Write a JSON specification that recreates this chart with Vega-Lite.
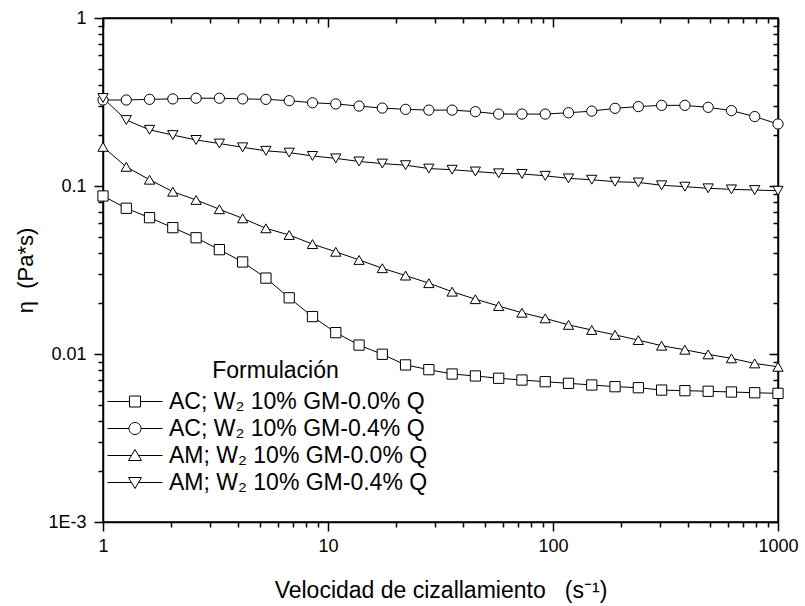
{
  "$schema": "https://vega.github.io/schema/vega-lite/v6.json",
  "width": 675,
  "height": 504,
  "autosize": {"type": "none"},
  "padding": {"left": 103, "top": 18, "right": 27, "bottom": 84},
  "background": "white",
  "config": {
    "view": {"stroke": "black", "strokeWidth": 1.5},
    "font": "Liberation Sans",
    "axis": {"grid": false, "domainColor": "black", "domainWidth": 1.5, "tickColor": "black", "tickWidth": 1.5, "labelColor": "black", "titleColor": "black", "labelFont": "Liberation Sans", "titleFont": "Liberation Sans", "titleFontWeight": "normal", "labelOverlap": false, "labelFlush": false},
    "legend": {"labelFont": "Liberation Sans", "titleFont": "Liberation Sans"}
  },
  "data": {"values": [
    {"rate": 1, "eta": 0.0872, "serie": "AC; W₂ 10% GM-0.0% Q"},
    {"rate": 1.269, "eta": 0.0737, "serie": "AC; W₂ 10% GM-0.0% Q"},
    {"rate": 1.610, "eta": 0.0648, "serie": "AC; W₂ 10% GM-0.0% Q"},
    {"rate": 2.043, "eta": 0.0565, "serie": "AC; W₂ 10% GM-0.0% Q"},
    {"rate": 2.593, "eta": 0.0492, "serie": "AC; W₂ 10% GM-0.0% Q"},
    {"rate": 3.290, "eta": 0.0418, "serie": "AC; W₂ 10% GM-0.0% Q"},
    {"rate": 4.175, "eta": 0.0353, "serie": "AC; W₂ 10% GM-0.0% Q"},
    {"rate": 5.298, "eta": 0.0283, "serie": "AC; W₂ 10% GM-0.0% Q"},
    {"rate": 6.723, "eta": 0.0216, "serie": "AC; W₂ 10% GM-0.0% Q"},
    {"rate": 8.532, "eta": 0.0167, "serie": "AC; W₂ 10% GM-0.0% Q"},
    {"rate": 10.83, "eta": 0.0134, "serie": "AC; W₂ 10% GM-0.0% Q"},
    {"rate": 13.74, "eta": 0.0113, "serie": "AC; W₂ 10% GM-0.0% Q"},
    {"rate": 17.43, "eta": 0.00996, "serie": "AC; W₂ 10% GM-0.0% Q"},
    {"rate": 22.12, "eta": 0.00861, "serie": "AC; W₂ 10% GM-0.0% Q"},
    {"rate": 28.07, "eta": 0.00807, "serie": "AC; W₂ 10% GM-0.0% Q"},
    {"rate": 35.62, "eta": 0.00760, "serie": "AC; W₂ 10% GM-0.0% Q"},
    {"rate": 45.20, "eta": 0.00740, "serie": "AC; W₂ 10% GM-0.0% Q"},
    {"rate": 57.36, "eta": 0.00717, "serie": "AC; W₂ 10% GM-0.0% Q"},
    {"rate": 72.79, "eta": 0.00700, "serie": "AC; W₂ 10% GM-0.0% Q"},
    {"rate": 92.37, "eta": 0.00684, "serie": "AC; W₂ 10% GM-0.0% Q"},
    {"rate": 117.2, "eta": 0.00669, "serie": "AC; W₂ 10% GM-0.0% Q"},
    {"rate": 148.7, "eta": 0.00654, "serie": "AC; W₂ 10% GM-0.0% Q"},
    {"rate": 188.7, "eta": 0.00639, "serie": "AC; W₂ 10% GM-0.0% Q"},
    {"rate": 239.5, "eta": 0.00630, "serie": "AC; W₂ 10% GM-0.0% Q"},
    {"rate": 303.9, "eta": 0.00610, "serie": "AC; W₂ 10% GM-0.0% Q"},
    {"rate": 385.7, "eta": 0.00605, "serie": "AC; W₂ 10% GM-0.0% Q"},
    {"rate": 489.4, "eta": 0.00600, "serie": "AC; W₂ 10% GM-0.0% Q"},
    {"rate": 621.0, "eta": 0.00594, "serie": "AC; W₂ 10% GM-0.0% Q"},
    {"rate": 788.0, "eta": 0.00588, "serie": "AC; W₂ 10% GM-0.0% Q"},
    {"rate": 1000, "eta": 0.00583, "serie": "AC; W₂ 10% GM-0.0% Q"},
    {"rate": 1, "eta": 0.325, "serie": "AC; W₂ 10% GM-0.4% Q"},
    {"rate": 1.269, "eta": 0.325, "serie": "AC; W₂ 10% GM-0.4% Q"},
    {"rate": 1.610, "eta": 0.328, "serie": "AC; W₂ 10% GM-0.4% Q"},
    {"rate": 2.043, "eta": 0.330, "serie": "AC; W₂ 10% GM-0.4% Q"},
    {"rate": 2.593, "eta": 0.333, "serie": "AC; W₂ 10% GM-0.4% Q"},
    {"rate": 3.290, "eta": 0.333, "serie": "AC; W₂ 10% GM-0.4% Q"},
    {"rate": 4.175, "eta": 0.330, "serie": "AC; W₂ 10% GM-0.4% Q"},
    {"rate": 5.298, "eta": 0.328, "serie": "AC; W₂ 10% GM-0.4% Q"},
    {"rate": 6.723, "eta": 0.322, "serie": "AC; W₂ 10% GM-0.4% Q"},
    {"rate": 8.532, "eta": 0.313, "serie": "AC; W₂ 10% GM-0.4% Q"},
    {"rate": 10.83, "eta": 0.308, "serie": "AC; W₂ 10% GM-0.4% Q"},
    {"rate": 13.74, "eta": 0.299, "serie": "AC; W₂ 10% GM-0.4% Q"},
    {"rate": 17.43, "eta": 0.291, "serie": "AC; W₂ 10% GM-0.4% Q"},
    {"rate": 22.12, "eta": 0.286, "serie": "AC; W₂ 10% GM-0.4% Q"},
    {"rate": 28.07, "eta": 0.283, "serie": "AC; W₂ 10% GM-0.4% Q"},
    {"rate": 35.62, "eta": 0.283, "serie": "AC; W₂ 10% GM-0.4% Q"},
    {"rate": 45.20, "eta": 0.277, "serie": "AC; W₂ 10% GM-0.4% Q"},
    {"rate": 57.36, "eta": 0.268, "serie": "AC; W₂ 10% GM-0.4% Q"},
    {"rate": 72.79, "eta": 0.268, "serie": "AC; W₂ 10% GM-0.4% Q"},
    {"rate": 92.37, "eta": 0.268, "serie": "AC; W₂ 10% GM-0.4% Q"},
    {"rate": 117.2, "eta": 0.273, "serie": "AC; W₂ 10% GM-0.4% Q"},
    {"rate": 148.7, "eta": 0.279, "serie": "AC; W₂ 10% GM-0.4% Q"},
    {"rate": 188.7, "eta": 0.290, "serie": "AC; W₂ 10% GM-0.4% Q"},
    {"rate": 239.5, "eta": 0.297, "serie": "AC; W₂ 10% GM-0.4% Q"},
    {"rate": 303.9, "eta": 0.302, "serie": "AC; W₂ 10% GM-0.4% Q"},
    {"rate": 385.7, "eta": 0.302, "serie": "AC; W₂ 10% GM-0.4% Q"},
    {"rate": 489.4, "eta": 0.294, "serie": "AC; W₂ 10% GM-0.4% Q"},
    {"rate": 621.0, "eta": 0.281, "serie": "AC; W₂ 10% GM-0.4% Q"},
    {"rate": 788.0, "eta": 0.259, "serie": "AC; W₂ 10% GM-0.4% Q"},
    {"rate": 1000, "eta": 0.234, "serie": "AC; W₂ 10% GM-0.4% Q"},
    {"rate": 1, "eta": 0.171, "serie": "AM; W₂ 10% GM-0.0% Q"},
    {"rate": 1.269, "eta": 0.130, "serie": "AM; W₂ 10% GM-0.0% Q"},
    {"rate": 1.610, "eta": 0.109, "serie": "AM; W₂ 10% GM-0.0% Q"},
    {"rate": 2.043, "eta": 0.0925, "serie": "AM; W₂ 10% GM-0.0% Q"},
    {"rate": 2.593, "eta": 0.0826, "serie": "AM; W₂ 10% GM-0.0% Q"},
    {"rate": 3.290, "eta": 0.0727, "serie": "AM; W₂ 10% GM-0.0% Q"},
    {"rate": 4.175, "eta": 0.0642, "serie": "AM; W₂ 10% GM-0.0% Q"},
    {"rate": 5.298, "eta": 0.0560, "serie": "AM; W₂ 10% GM-0.0% Q"},
    {"rate": 6.723, "eta": 0.0511, "serie": "AM; W₂ 10% GM-0.0% Q"},
    {"rate": 8.532, "eta": 0.0451, "serie": "AM; W₂ 10% GM-0.0% Q"},
    {"rate": 10.83, "eta": 0.0406, "serie": "AM; W₂ 10% GM-0.0% Q"},
    {"rate": 13.74, "eta": 0.0363, "serie": "AM; W₂ 10% GM-0.0% Q"},
    {"rate": 17.43, "eta": 0.0324, "serie": "AM; W₂ 10% GM-0.0% Q"},
    {"rate": 22.12, "eta": 0.0293, "serie": "AM; W₂ 10% GM-0.0% Q"},
    {"rate": 28.07, "eta": 0.0264, "serie": "AM; W₂ 10% GM-0.0% Q"},
    {"rate": 35.62, "eta": 0.0235, "serie": "AM; W₂ 10% GM-0.0% Q"},
    {"rate": 45.20, "eta": 0.0212, "serie": "AM; W₂ 10% GM-0.0% Q"},
    {"rate": 57.36, "eta": 0.0193, "serie": "AM; W₂ 10% GM-0.0% Q"},
    {"rate": 72.79, "eta": 0.0176, "serie": "AM; W₂ 10% GM-0.0% Q"},
    {"rate": 92.37, "eta": 0.0163, "serie": "AM; W₂ 10% GM-0.0% Q"},
    {"rate": 117.2, "eta": 0.0149, "serie": "AM; W₂ 10% GM-0.0% Q"},
    {"rate": 148.7, "eta": 0.0139, "serie": "AM; W₂ 10% GM-0.0% Q"},
    {"rate": 188.7, "eta": 0.0130, "serie": "AM; W₂ 10% GM-0.0% Q"},
    {"rate": 239.5, "eta": 0.0121, "serie": "AM; W₂ 10% GM-0.0% Q"},
    {"rate": 303.9, "eta": 0.0112, "serie": "AM; W₂ 10% GM-0.0% Q"},
    {"rate": 385.7, "eta": 0.0106, "serie": "AM; W₂ 10% GM-0.0% Q"},
    {"rate": 489.4, "eta": 0.00995, "serie": "AM; W₂ 10% GM-0.0% Q"},
    {"rate": 621.0, "eta": 0.00942, "serie": "AM; W₂ 10% GM-0.0% Q"},
    {"rate": 788.0, "eta": 0.00879, "serie": "AM; W₂ 10% GM-0.0% Q"},
    {"rate": 1000, "eta": 0.00839, "serie": "AM; W₂ 10% GM-0.0% Q"},
    {"rate": 1, "eta": 0.334, "serie": "AM; W₂ 10% GM-0.4% Q"},
    {"rate": 1.269, "eta": 0.247, "serie": "AM; W₂ 10% GM-0.4% Q"},
    {"rate": 1.610, "eta": 0.216, "serie": "AM; W₂ 10% GM-0.4% Q"},
    {"rate": 2.043, "eta": 0.201, "serie": "AM; W₂ 10% GM-0.4% Q"},
    {"rate": 2.593, "eta": 0.188, "serie": "AM; W₂ 10% GM-0.4% Q"},
    {"rate": 3.290, "eta": 0.179, "serie": "AM; W₂ 10% GM-0.4% Q"},
    {"rate": 4.175, "eta": 0.170, "serie": "AM; W₂ 10% GM-0.4% Q"},
    {"rate": 5.298, "eta": 0.162, "serie": "AM; W₂ 10% GM-0.4% Q"},
    {"rate": 6.723, "eta": 0.158, "serie": "AM; W₂ 10% GM-0.4% Q"},
    {"rate": 8.532, "eta": 0.151, "serie": "AM; W₂ 10% GM-0.4% Q"},
    {"rate": 10.83, "eta": 0.146, "serie": "AM; W₂ 10% GM-0.4% Q"},
    {"rate": 13.74, "eta": 0.140, "serie": "AM; W₂ 10% GM-0.4% Q"},
    {"rate": 17.43, "eta": 0.136, "serie": "AM; W₂ 10% GM-0.4% Q"},
    {"rate": 22.12, "eta": 0.133, "serie": "AM; W₂ 10% GM-0.4% Q"},
    {"rate": 28.07, "eta": 0.127, "serie": "AM; W₂ 10% GM-0.4% Q"},
    {"rate": 35.62, "eta": 0.125, "serie": "AM; W₂ 10% GM-0.4% Q"},
    {"rate": 45.20, "eta": 0.122, "serie": "AM; W₂ 10% GM-0.4% Q"},
    {"rate": 57.36, "eta": 0.119, "serie": "AM; W₂ 10% GM-0.4% Q"},
    {"rate": 72.79, "eta": 0.118, "serie": "AM; W₂ 10% GM-0.4% Q"},
    {"rate": 92.37, "eta": 0.115, "serie": "AM; W₂ 10% GM-0.4% Q"},
    {"rate": 117.2, "eta": 0.111, "serie": "AM; W₂ 10% GM-0.4% Q"},
    {"rate": 148.7, "eta": 0.109, "serie": "AM; W₂ 10% GM-0.4% Q"},
    {"rate": 188.7, "eta": 0.106, "serie": "AM; W₂ 10% GM-0.4% Q"},
    {"rate": 239.5, "eta": 0.105, "serie": "AM; W₂ 10% GM-0.4% Q"},
    {"rate": 303.9, "eta": 0.101, "serie": "AM; W₂ 10% GM-0.4% Q"},
    {"rate": 385.7, "eta": 0.0991, "serie": "AM; W₂ 10% GM-0.4% Q"},
    {"rate": 489.4, "eta": 0.0969, "serie": "AM; W₂ 10% GM-0.4% Q"},
    {"rate": 621.0, "eta": 0.0955, "serie": "AM; W₂ 10% GM-0.4% Q"},
    {"rate": 788.0, "eta": 0.0946, "serie": "AM; W₂ 10% GM-0.4% Q"},
    {"rate": 1000, "eta": 0.0937, "serie": "AM; W₂ 10% GM-0.4% Q"}
  ]},
  "layer": [
    {
      "mark": {"type": "line", "color": "black", "strokeWidth": 1, "clip": true},
      "encoding": {
        "x": {"field": "rate", "type": "quantitative",
          "scale": {"type": "log", "domain": [1, 1000], "nice": false},
          "axis": {"orient": "bottom", "title": "Velocidad de cizallamiento\u00a0\u00a0\u00a0(s⁻¹)", "titleFontSize": 23, "titlePadding": 24,
            "values": [1, 10, 100, 1000], "format": "d", "tickSize": 9,
            "labelFontSize": 18, "labelPadding": 6}},
        "y": {"field": "eta", "type": "quantitative",
          "scale": {"type": "log", "domain": [0.001, 1], "nice": false},
          "axis": {"orient": "left", "title": "η\u00a0\u00a0(Pa*s)", "titleFontSize": 22, "titlePadding": 10,
            "values": [0.001, 0.01, 0.1, 1],
            "labelExpr": "datum.value == 1 ? '1' : datum.value == 0.1 ? '0.1' : datum.value == 0.01 ? '0.01' : '1E-3'",
            "tickSize": 9, "labelFontSize": 18, "labelPadding": 8}},
        "detail": {"field": "serie"}
      }
    },
    {
      "mark": {"type": "point", "filled": true, "fill": "white", "stroke": "black", "strokeWidth": 1, "size": 105, "opacity": 1, "clip": false},
      "encoding": {
        "x": {"field": "rate", "type": "quantitative",
          "axis": {"orient": "bottom", "title": null, "labels": false, "domain": false, "tickSize": 5,
            "values": [2,3,4,5,6,7,8,9,20,30,40,50,60,70,80,90,200,300,400,500,600,700,800,900]}},
        "y": {"field": "eta", "type": "quantitative",
          "axis": {"orient": "left", "title": null, "labels": false, "domain": false, "tickSize": 5,
            "values": [0.002,0.003,0.004,0.005,0.006,0.007,0.008,0.009,0.02,0.03,0.04,0.05,0.06,0.07,0.08,0.09,0.2,0.3,0.4,0.5,0.6,0.7,0.8,0.9]}},
        "shape": {"field": "serie", "type": "nominal", "legend": null,
          "scale": {"domain": ["AC; W₂ 10% GM-0.0% Q", "AC; W₂ 10% GM-0.4% Q", "AM; W₂ 10% GM-0.0% Q", "AM; W₂ 10% GM-0.4% Q"],
                    "range": ["square", "circle", "triangle-up", "triangle-down"]}}
      }
    },
    {
      "mark": {"type": "point", "filled": false, "opacity": 0, "clip": true},
      "encoding": {
        "x": {"field": "rate", "type": "quantitative",
          "axis": {"orient": "top", "title": null, "labels": false, "domain": true, "tickSize": -9,
            "values": [1, 10, 100, 1000]}},
        "y": {"field": "eta", "type": "quantitative",
          "axis": {"orient": "right", "title": null, "labels": false, "domain": true, "tickSize": -9,
            "values": [0.001, 0.01, 0.1, 1]}},
        "shape": {"field": "serie", "type": "nominal",
          "scale": {"domain": ["AC; W₂ 10% GM-0.0% Q", "AC; W₂ 10% GM-0.4% Q", "AM; W₂ 10% GM-0.0% Q", "AM; W₂ 10% GM-0.4% Q"],
                    "range": ["M-2.75,0H-0.55M-0.55,-0.55H0.55V0.55H-0.55ZM0.55,0H2.75",
                              "M-2.75,0H-0.6M-0.6,0A0.6,0.6,0,1,1,0.6,0A0.6,0.6,0,1,1,-0.6,0ZM0.6,0H2.75",
                              "M-2.75,0H-0.355M0,-0.6L0.65,0.5H-0.65ZM0.355,0H2.75",
                              "M-2.75,0H-0.355M0,0.6L0.65,-0.5H-0.65ZM0.355,0H2.75"]},
          "legend": {"orient": "none", "legendX": 20.5, "legendY": 342, "title": "Formulación", "titleFontSize": 23, "titleFontWeight": "normal", "titleColor": "black", "titleAnchor": "middle", "titlePadding": 7,
            "labelFontSize": 23, "labelColor": "black", "labelLimit": 0, "labelOffset": 22.5,
            "symbolSize": 400, "symbolStrokeColor": "black", "symbolStrokeWidth": 1, "symbolFillColor": "white", "symbolOpacity": 1,
            "rowPadding": 3, "padding": 0}}
      }
    },
    {
      "mark": {"type": "point", "filled": false, "opacity": 0, "clip": true},
      "encoding": {
        "x": {"field": "rate", "type": "quantitative",
          "axis": {"orient": "top", "title": null, "labels": false, "domain": false, "tickSize": -5,
            "values": [2,3,4,5,6,7,8,9,20,30,40,50,60,70,80,90,200,300,400,500,600,700,800,900]}},
        "y": {"field": "eta", "type": "quantitative",
          "axis": {"orient": "right", "title": null, "labels": false, "domain": false, "tickSize": -5,
            "values": [0.002,0.003,0.004,0.005,0.006,0.007,0.008,0.009,0.02,0.03,0.04,0.05,0.06,0.07,0.08,0.09,0.2,0.3,0.4,0.5,0.6,0.7,0.8,0.9]}}
      }
    }
  ],
  "resolve": {"scale": {"shape": "independent"}, "axis": {"x": "independent", "y": "independent"}}
}
